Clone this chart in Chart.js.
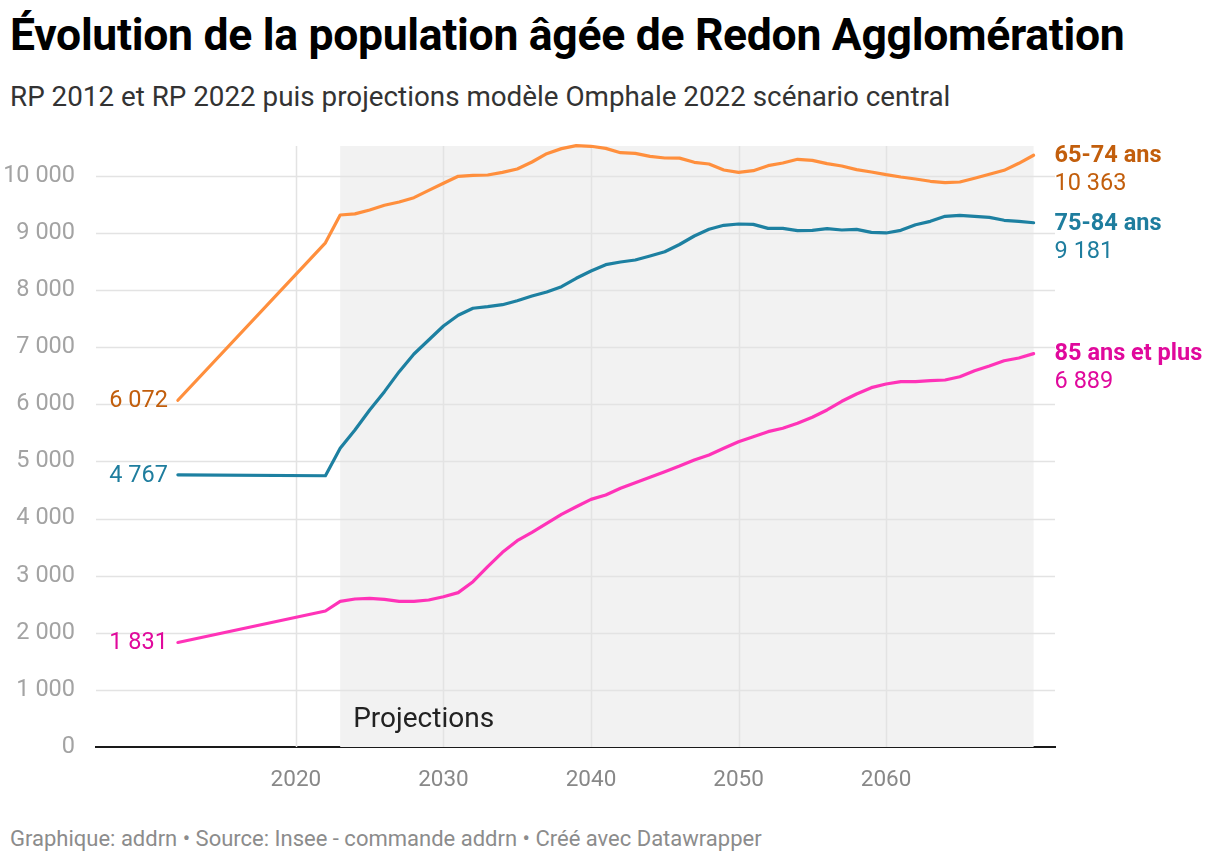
<!DOCTYPE html>
<html lang="fr">
<head>
<meta charset="utf-8">
<script src="https://cdn.jsdelivr.net/npm/chart.js@4"></script>
<style>
  html, body { margin: 0; padding: 0; background: #fff; }
  body { width: 1220px; height: 864px; position: relative; overflow: hidden; font-family: Roboto, sans-serif; }
  h1 { position: absolute; left: 10px; top: 9px; margin: 0; font-size: 44.5px; font-weight: 700; color: #000; letter-spacing: -0.3px; white-space: nowrap; }
  .sub { position: absolute; left: 10px; top: 80px; font-size: 27.8px; color: #333; white-space: nowrap; }
  .foot { position: absolute; left: 10px; top: 826px; font-size: 22px; color: #8c8c8c; white-space: nowrap; }
  #wrap { position: absolute; left: 0; top: 0; width: 1220px; height: 864px; }
</style>
</head>
<body>
<h1>Évolution de la population âgée de Redon Agglomération</h1>
<div class="sub">RP 2012 et RP 2022 puis projections modèle Omphale 2022 scénario central</div>
<div class="foot">Graphique: addrn • Source: Insee - commande addrn • Créé avec Datawrapper</div>
<div id="wrap"><canvas id="chart" width="1220" height="864"></canvas></div>
<script>
// années : RP 2012, RP 2022 puis projections annuelles
const years = [2012, 2022,
  2023, 2024, 2025, 2026, 2027, 2028, 2029, 2030, 2031, 2032, 2033, 2034, 2035, 2036,
  2037, 2038, 2039, 2040, 2041, 2042, 2043, 2044, 2045, 2046, 2047, 2048, 2049, 2050,
  2051, 2052, 2053, 2054, 2055, 2056, 2057, 2058, 2059, 2060, 2061, 2062, 2063, 2064,
  2065, 2066, 2067, 2068, 2069, 2070];

const ans65_74 = [6072, 8830,
  9317, 9337, 9405, 9487, 9545, 9620, 9749, 9872, 9994, 10012, 10017, 10064, 10122, 10245,
  10391, 10479, 10531, 10520, 10484, 10408, 10397, 10344, 10315, 10312, 10239, 10210, 10105, 10064,
  10093, 10181, 10228, 10292, 10274, 10216, 10175, 10111, 10070, 10023, 9982, 9947, 9907, 9883,
  9895, 9959, 10029, 10099, 10222, 10363];

const ans75_84 = [4767, 4750,
  5231, 5552, 5902, 6223, 6573, 6883, 7128, 7373, 7561, 7683, 7711, 7746, 7816, 7898,
  7968, 8062, 8208, 8336, 8447, 8494, 8529, 8599, 8674, 8800, 8949, 9066, 9136, 9159,
  9153, 9083, 9083, 9042, 9048, 9077, 9054, 9066, 9013, 9002, 9048, 9147, 9206, 9294,
  9311, 9294, 9276, 9224, 9206, 9181];

const ans85plus = [1831, 2382,
  2551, 2592, 2604, 2586, 2551, 2551, 2574, 2632, 2703, 2895, 3158, 3409, 3613, 3760,
  3917, 4075, 4208, 4337, 4413, 4530, 4629, 4723, 4821, 4920, 5026, 5114, 5231, 5347,
  5435, 5522, 5581, 5669, 5774, 5902, 6054, 6182, 6293, 6357, 6398, 6398, 6416, 6427,
  6485, 6590, 6673, 6765, 6813, 6889];

const xTicks = [2020, 2030, 2040, 2050, 2060];
const yTicks = [0, 1000, 2000, 3000, 4000, 5000, 6000, 7000, 8000, 9000, 10000];
const projStart = 2023;
const projEnd = 2070;

const series = [
  { name: "65-74 ans", values: ans65_74, line: "#ff8f3d", text: "#c25e0c" },
  { name: "75-84 ans", values: ans75_84, line: "#1d80a1", text: "#1e7d9e" },
  { name: "85 ans et plus", values: ans85plus, line: "#ff33b8", text: "#e0099c" }
];

const fmt = v => Math.round(v).toString().replace(/\B(?=(\d{3})+(?!\d))/g, " ");

// zone grisée des projections
const projectionBand = {
  id: "projectionBand",
  beforeDatasetsDraw(chart) {
    const { ctx, chartArea, scales } = chart;
    const x1 = scales.x.getPixelForValue(projStart);
    const x2 = scales.x.getPixelForValue(projEnd);
    ctx.save();
    ctx.fillStyle = "#f2f2f2";
    ctx.fillRect(x1, chartArea.top, x2 - x1, chartArea.bottom - chartArea.top);
    ctx.restore();
  }
};

// la grille par dessus la zone grisée
const regrid = {
  id: "regrid",
  beforeDatasetsDraw(chart) {
    const { ctx, chartArea, scales } = chart;
    ctx.save();
    ctx.strokeStyle = "#e3e3e3";
    ctx.lineWidth = 1.5;
    yTicks.forEach(v => {
      if (v === 0) return;
      const y = Math.round(scales.y.getPixelForValue(v)) + 0.5;
      ctx.beginPath(); ctx.moveTo(chartArea.left, y); ctx.lineTo(chartArea.right, y); ctx.stroke();
    });
    xTicks.forEach(v => {
      const x = Math.round(scales.x.getPixelForValue(v)) + 0.5;
      ctx.beginPath(); ctx.moveTo(x, chartArea.top); ctx.lineTo(x, chartArea.bottom); ctx.stroke();
    });
    ctx.fillStyle = "#222";
    ctx.font = "28px Roboto";
    ctx.textBaseline = "middle";
    ctx.fillText("Projections", scales.x.getPixelForValue(projStart) + 13, chartArea.bottom - 27);
    ctx.restore();
  }
};

// étiquettes de début et de fin de ligne
const lineLabels = {
  id: "lineLabels",
  afterDatasetsDraw(chart) {
    const { ctx, scales } = chart;
    ctx.save();
    ctx.textBaseline = "middle";
    series.forEach(s => {
      const first = s.values[0];
      const last = s.values[s.values.length - 1];
      const x0 = scales.x.getPixelForValue(years[0]);
      const y0 = scales.y.getPixelForValue(first);
      ctx.fillStyle = s.text;
      ctx.font = "23.5px Roboto";
      ctx.textAlign = "right";
      ctx.fillText(fmt(first), x0 - 10, y0 + 1);
      const xe = scales.x.getPixelForValue(years[years.length - 1]);
      const ye = scales.y.getPixelForValue(last);
      ctx.textAlign = "left";
      ctx.font = "bold 23.5px Roboto";
      ctx.fillText(s.name, xe + 21, ye + 1);
      ctx.font = "23.5px Roboto";
      ctx.fillText(fmt(last), xe + 21, ye + 29);
    });
    ctx.restore();
  }
};

const ctx = document.getElementById("chart").getContext("2d");
new Chart(ctx, {
  type: "line",
  data: {
    datasets: series.map(s => ({
      label: s.name,
      data: years.map((y, i) => ({ x: y, y: s.values[i] })),
      borderColor: s.line,
      borderWidth: 3.2,
      borderJoinStyle: "round",
      borderCapStyle: "round",
      pointRadius: 0,
      fill: false,
      tension: 0,
      clip: false
    }))
  },
  options: {
    responsive: false,
    animation: false,
    layout: { padding: { left: 0, right: 165, top: 146, bottom: 0 } },
    plugins: { legend: { display: false }, tooltip: { enabled: false } },
    scales: {
      x: {
        type: "linear",
        min: 2006.45,
        max: 2071.45,
        afterBuildTicks: axis => { axis.ticks = xTicks.map(v => ({ value: v })); },
        afterFit: axis => { axis.height = 117; },
        grid: { display: false },
        border: { display: true, color: "#1a1a1a", width: 2 },
        ticks: {
          color: "#888",
          font: { family: "Roboto", size: 22.5 },
          padding: 12,
          maxRotation: 0,
          callback: v => String(v)
        }
      },
      y: {
        min: 0,
        max: 10525,
        afterBuildTicks: axis => { axis.ticks = yTicks.map(v => ({ value: v })); },
        afterFit: axis => { axis.width = 96; },
        grid: { display: false },
        border: { display: false },
        ticks: {
          color: "#a3a3a3",
          font: { family: "Roboto", size: 23.5 },
          padding: 13,
          callback: v => fmt(v)
        }
      }
    }
  },
  plugins: [projectionBand, regrid, lineLabels]
});
</script>
</body>
</html>
